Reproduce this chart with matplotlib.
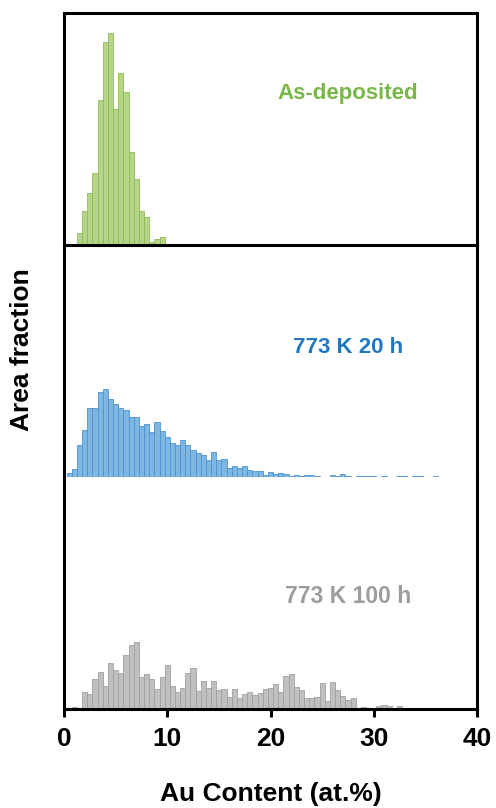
import numpy as np
import matplotlib
matplotlib.use("Agg")
import matplotlib.pyplot as plt

plt.rcParams['font.family'] = ['Liberation Sans', 'DejaVu Sans']
plt.rcParams['font.weight'] = 'bold'

# Au content histograms, 0.5 at.% bins; heights are relative area fraction
bin_width = 0.5

as_dep_start = 1.5
as_dep = [12, 34, 52, 72, 145, 203, 212, 136, 172, 153, 93, 66, 34, 28,
          3, 6, 8, 0, 1]

k20h_start = 0.5
k20h = [3.7, 7.7, 31.7, 47.3, 68.7, 68.7, 84.7, 87.7, 77.7, 72.7, 68.7,
        66.7, 59.7, 59.7, 50.7, 52.7, 44.7, 54.7, 45.7, 39.7, 33.7, 31.7,
        36.7, 31.7, 26.7, 23.7, 21.7, 16.7, 24.7, 16.7, 17.7, 8.7, 10.7,
        8.7, 10.7, 6.7, 5.7, 5.7, 1.7, 4.7, 2.7, 3.7, 2.7, 0.7, 1.7, 0.7,
        1.7, 1.7, 0.7, 0, 0, 1.7, 0.7, 2.7, 0.7, 0, 0.7, 0.7, 0.7, 0.7, 0,
        0.7, 0, 0, 0.7, 0.7, 0, 0.7, 0.7, 0, 0, 0.7]

k100h_start = 1.0
k100h = [2, 1, 17.3, 15.3, 30.3, 37.3, 23.3, 46.3, 39.3, 36.3, 54.3, 64.3,
         67.3, 32.3, 35.3, 30.3, 20.3, 32.3, 44.3, 23.3, 17.3, 21.3, 36.3,
         41.3, 18.3, 28.3, 21.3, 28.3, 19.3, 20.3, 12.3, 20.3, 11.3, 15.3,
         17.3, 14.3, 16.3, 20, 21, 25, 17, 33, 35, 22, 19, 11, 11, 12, 26,
         8, 27, 19, 13, 9, 11, 1, 2, 0, 1, 3, 4, 3, 0, 3, 1, 0, 0, 0, 0, 0,
         0, 0, 0, 0, 0, 0, 0, 1]

panels = [
    ("As-deposited", as_dep_start, as_dep, "#b6d58b", "#8dbd52", "#7ab648", 0.655, 16),
    ("773 K 20 h", k20h_start, k20h, "#80b7e0", "#4a93d2", "#1f78c4", 0.56, 16),
    ("773 K 100 h", k100h_start, k100h, "#c0c0c0", "#a0a0a0", "#9c9c9c", 0.485, 16.5),
]

W, H = 496, 808
fig = plt.figure(figsize=(W / 100, H / 100), dpi=100)

left, right = 64, 477
tops = [13, 245, 477]
panel_h = 232
lw = 2.2

axes = []
for i, (label, start, vals, fill, edge, tcol, ty, fs) in enumerate(panels):
    top = tops[i]
    ax = fig.add_axes([left / W, (H - top - panel_h) / H,
                       (right - left) / W, panel_h / H])
    ax.patch.set_visible(False)
    x = start + bin_width * np.arange(len(vals))
    ax.bar(x, vals, width=bin_width, color=fill, edgecolor=edge,
           linewidth=0.6, zorder=2)
    ax.set_xlim(0, 40)
    ax.set_ylim(0, panel_h)
    ax.set_yticks([])
    ax.text(27.5, ty, label, transform=ax.get_xaxis_transform(),
            ha='center', va='center', color=tcol, fontsize=fs,
            fontweight='bold')
    for s in ax.spines.values():
        s.set_linewidth(lw)
        s.set_zorder(5)
    ax.spines['top'].set_visible(i == 0)
    ax.spines['bottom'].set_visible(i != 1)
    if i < 2:
        ax.set_xticks([])
    axes.append(ax)

ax = axes[-1]
ax.set_xticks([0, 10, 20, 30, 40])
ax.tick_params(axis='x', direction='out', length=6, width=lw, pad=7,
               labelsize=19)
for t in ax.get_xticklabels():
    t.set_fontweight('bold')
ax.set_xlabel("Au Content (at.%)", fontsize=19, fontweight='bold',
              labelpad=22)

fig.text(22 / W, 1 - 350 / H, "Area fraction", rotation=90, ha='center',
         va='center', fontsize=19, fontweight='bold')

fig.savefig("out.png", dpi=100)
